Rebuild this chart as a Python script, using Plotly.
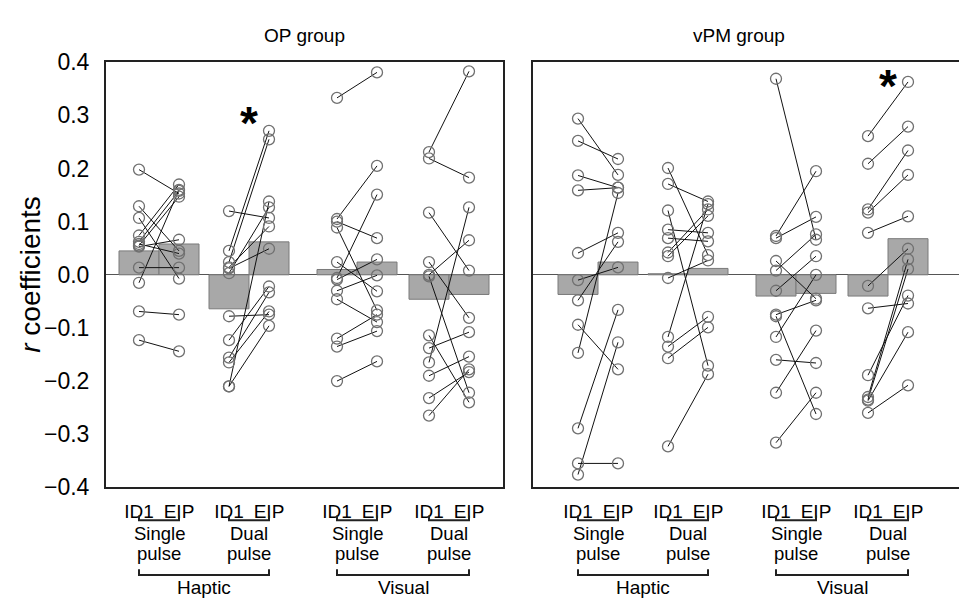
import plotly.graph_objects as go

# ---------------- data ----------------
conditions = ["ID1", "EIP", "ID1", "EIP", "ID1", "EIP", "ID1", "EIP"]
pulse_top = ["Single", "Dual", "Single", "Dual"]
pulse_bottom = ["pulse", "pulse", "pulse", "pulse"]
modalities = ["Haptic", "Visual"]
panel_titles = ["OP group", "vPM group"]
y_ticks = [-0.4, -0.3, -0.2, -0.1, 0.0, 0.1, 0.2, 0.3, 0.4]

# group means (bars): haptic single ID1/EIP, haptic dual, visual single, visual dual
op_means = [0.045, 0.058, -0.064, 0.062, 0.010, 0.024, -0.046, -0.037]
vpm_means = [-0.037, 0.024, 0.002, 0.012, -0.040, -0.035, -0.040, 0.068]

# individual subjects (ID1 -> EIP pairs)
op_hs_id1 = [0.198, 0.129, 0.107, 0.074, 0.062, 0.055, 0.053, 0.058, 0.0135, -0.015, -0.069, -0.123]
op_hs_eip = [0.153, 0.045, -0.007, 0.170, 0.158, 0.147, 0.066, 0.040, 0.0135, 0.160, -0.075, -0.144]
op_hd_id1 = [0.120, 0.045, 0.024, 0.012, 0.003, 0.014, -0.078, -0.123, -0.156, -0.165, -0.210, -0.210]
op_hd_eip = [0.107, 0.271, 0.255, 0.049, 0.127, 0.091, -0.075, -0.022, -0.033, -0.069, 0.138, -0.096]
op_vs_id1 = [0.333, 0.105, 0.100, 0.089, 0.024, -0.006, -0.009, -0.030, -0.046, -0.120, -0.135, -0.200]
op_vs_eip = [0.381, 0.205, 0.069, -0.067, -0.031, 0.151, 0.029, -0.001, -0.089, -0.075, -0.106, -0.163]
op_vd_id1 = [0.231, 0.219, 0.117, 0.024, 0.000, -0.003, -0.114, -0.138, -0.165, -0.190, -0.232, -0.265]
op_vd_eip = [0.383, 0.183, 0.008, -0.081, 0.065, -0.222, -0.240, -0.108, 0.127, -0.154, -0.183, -0.178]

vpm_hs_id1 = [0.294, 0.252, 0.187, 0.159, 0.041, -0.010, -0.048, -0.094, -0.147, -0.289, -0.355, -0.376]
vpm_hs_eip = [0.188, 0.218, 0.164, 0.164, 0.079, 0.014, 0.062, -0.178, 0.154, -0.066, -0.355, -0.127]
vpm_hd_id1 = [0.201, 0.171, 0.121, 0.085, 0.069, 0.042, 0.035, -0.006, -0.117, -0.135, -0.157, -0.323]
vpm_hd_eip = [0.037, 0.138, -0.171, 0.079, 0.063, 0.123, 0.111, 0.027, 0.133, -0.079, -0.099, -0.187]
vpm_vs_id1 = [0.369, 0.073, 0.069, 0.026, 0.008, -0.030, -0.075, -0.078, -0.117, -0.160, -0.222, -0.316]
vpm_vs_eip = [0.066, 0.195, 0.109, -0.045, 0.076, 0.035, -0.048, -0.262, 0.000, -0.166, -0.105, -0.222]
vpm_vd_id1 = [0.261, 0.209, 0.123, 0.117, 0.079, -0.021, -0.063, -0.189, -0.230, -0.235, -0.237, -0.260]
vpm_vd_eip = [0.363, 0.279, 0.234, 0.188, 0.110, 0.049, -0.054, -0.039, 0.029, 0.011, -0.108, -0.208]

op_sig = [1]
vpm_sig = [3]

# ---------------- layout constants ----------------
pos = [0, 1, 2.25, 3.25, 4.95, 5.95, 7.25, 8.25]
W, H = 959, 608
FONT = "Liberation Sans, Arial, Helvetica, sans-serif"

def py(p):  # pixel from top -> paper
    return (H - p) / H

panels = [
    dict(xa="x", ya="y", means=op_means,
         blocks=[(op_hs_id1, op_hs_eip), (op_hd_id1, op_hd_eip), (op_vs_id1, op_vs_eip), (op_vd_id1, op_vd_eip)],
         sig=op_sig, star_y=0.303, dom=[106 / W, 503 / W], rng=[-0.825, 9.1], title_x=304.5 / W),
    dict(xa="x2", ya="y2", means=vpm_means,
         blocks=[(vpm_hs_id1, vpm_hs_eip), (vpm_hd_id1, vpm_hd_eip), (vpm_vs_id1, vpm_vs_eip), (vpm_vd_id1, vpm_vd_eip)],
         sig=vpm_sig, star_y=0.373, dom=[533 / W, 1.0], rng=[-1.125, 9.525], title_x=738.5 / W),
]

fig = go.Figure()
annotations = []
shapes = []

def txt(x, y, text, size, xref="paper", yref="paper", **kw):
    d = dict(x=x, y=y, xref=xref, yref=yref, text=text, showarrow=False, borderpad=0,
             font=dict(size=size, color="black", family=FONT), xanchor="center", yanchor="middle")
    d.update(kw)
    annotations.append(d)

for pi, p in enumerate(panels):
    fig.add_trace(go.Bar(
        x=pos, y=p["means"], width=1.0, xaxis=p["xa"], yaxis=p["ya"],
        marker=dict(color="#a8a8a8", line=dict(color="#7a7a7a", width=1)),
        showlegend=False, hoverinfo="skip"))
    for bi, (a, b) in enumerate(p["blocks"]):
        xs, ys = [], []
        for va, vb in zip(a, b):
            xs += [pos[2 * bi], pos[2 * bi + 1], None]
            ys += [va, vb, None]
        fig.add_trace(go.Scatter(
            x=xs, y=ys, mode="lines+markers", xaxis=p["xa"], yaxis=p["ya"],
            line=dict(color="#111111", width=1),
            marker=dict(symbol="circle-open", size=11, color="#707070", line=dict(width=1.3)),
            showlegend=False, hoverinfo="skip"))
    for bi in p["sig"]:
        txt((pos[2 * bi] + pos[2 * bi + 1]) / 2, p["star_y"], "<b>*</b>", 46,
            xref=p["xa"], yref=p["ya"], yshift=-9.5)
    txt(p["title_x"], py(24), panel_titles[pi], 19)
    for bi in range(4):
        x0, x1 = pos[2 * bi], pos[2 * bi + 1]
        shapes.append(dict(type="path", xref=p["xa"], yref="paper",
                           path=f"M {x0},{py(525)} L {x0},{py(530)} L {x1},{py(530)} L {x1},{py(525)}",
                           line=dict(color="#222222", width=2)))
        txt((x0 + x1) / 2, py(543.5), pulse_top[bi], 18.5, xref=p["xa"])
        txt((x0 + x1) / 2, py(564.5), pulse_bottom[bi], 18.5, xref=p["xa"])
    for mi in range(2):
        x0, x1 = pos[4 * mi], pos[4 * mi + 3]
        shapes.append(dict(type="path", xref=p["xa"], yref="paper",
                           path=f"M {x0},{py(581)} L {x0},{py(587)} L {x1},{py(587)} L {x1},{py(581)}",
                           line=dict(color="#222222", width=2)))
        txt((x0 + x1) / 2, py(600), modalities[mi], 19, xref=p["xa"])

txt(31 / W, py(273.5), "<i>r</i> coefficients", 28, textangle=-90)

ydom = [py(495.5), py(51.5)]
common_x = dict(showgrid=False, zeroline=False, showline=True, linecolor="#222222", linewidth=2,
                mirror=True, ticks="", tickvals=pos, ticktext=conditions,
                tickfont=dict(size=19, color="black", family=FONT), ticklabelstandoff=6)
fig.update_layout(
    width=W, height=H, margin=dict(l=0, r=0, t=0, b=0),
    paper_bgcolor="white", plot_bgcolor="white", barmode="overlay",
    xaxis=dict(domain=panels[0]["dom"], range=panels[0]["rng"], **common_x),
    xaxis2=dict(domain=panels[1]["dom"], range=panels[1]["rng"], anchor="y2", **common_x),
    yaxis=dict(domain=ydom, range=[-0.4, 0.4], tickvals=y_ticks, tickformat=".1f",
               showgrid=False, zeroline=True, zerolinecolor="#555555", zerolinewidth=1,
               showline=True, linecolor="#222222", linewidth=2, mirror=True, ticks="",
               tickfont=dict(size=23, color="black", family=FONT), ticklabelstandoff=10),
    yaxis2=dict(domain=ydom, range=[-0.4, 0.4], anchor="x2", showticklabels=False,
                showgrid=False, zeroline=True, zerolinecolor="#555555", zerolinewidth=1,
                showline=True, linecolor="#222222", linewidth=2, mirror=False, ticks=""),
    annotations=annotations, shapes=shapes,
)

fig.write_html("out.html")
